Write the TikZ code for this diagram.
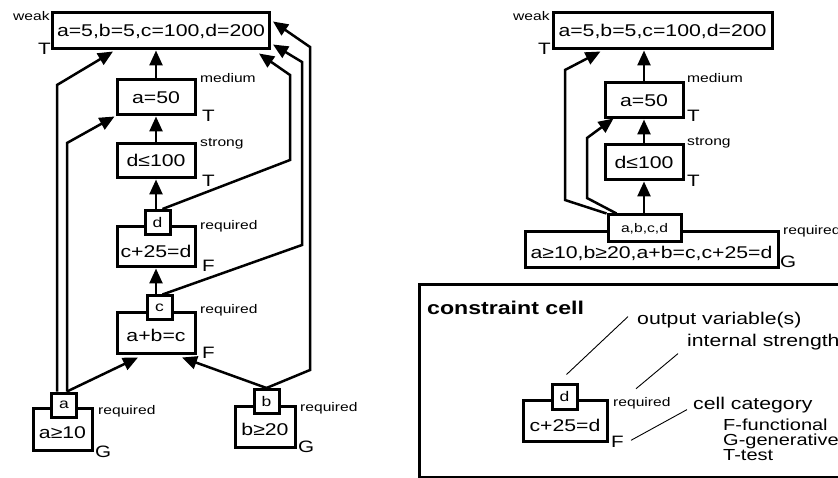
\documentclass[tikz,border=0pt]{standalone}
\usepackage{fontspec}
\setmainfont{Liberation Sans}[FakeStretch=1.25]
\usetikzlibrary{arrows.meta,calc}
\newcommand\fBig{\fontsize{17}{20}\selectfont}
\newcommand\fSm{\fontsize{12.5}{15}\selectfont}
\newcommand\fOut{\fontsize{14}{16}\selectfont}
\newcommand\fTag{\fontsize{16.5}{19}\selectfont}
\newcommand\fHead{\fontsize{18.5}{22}\selectfont\bfseries}
\newcommand\fLeg{\fontsize{16}{19}\selectfont}
\tikzset{
 cbox/.style={draw, line width=3pt, fill=white, inner sep=0pt, font=\fBig, text height=12pt, text depth=0pt},
 obox/.style={draw, line width=3pt, fill=white, inner sep=0pt, font=\fOut, minimum width=25pt, minimum height=24pt},
 lab/.style={font=\fSm, inner sep=0pt, anchor=base west},
 tag/.style={font=\fTag, inner sep=0pt, anchor=base west},
 legtxt/.style={font=\fBig, inner sep=0pt, anchor=base west},
 legsub/.style={font=\fLeg, inner sep=0pt, anchor=base west},
 conn/.style={line width=2.5pt, -{Triangle[length=15pt,width=13pt]}, line join=miter},
 pointer/.style={line width=0.9pt},
}
\begin{document}
\begin{tikzpicture}[x=1pt,y=-1pt]
\useasboundingbox (0,0) rectangle (838,478);
% ---------- left diagram ----------
\node[cbox, minimum width=217pt, minimum height=36pt] (topL) at (161,31) {a=5,b=5,c=100,d=200};
\node[cbox, minimum width=78pt, minimum height=35pt] (aL) at (156,97.5) {a=50};
\node[cbox, minimum width=78pt, minimum height=34pt] (dL) at (156,161) {d≤100};
\node[cbox, minimum width=78pt, minimum height=40pt, text height=21pt] (cdL) at (156,247) {c+25=d};
\node[obox] (odL) at (157.5,222.5) {d};
\node[cbox, minimum width=78pt, minimum height=40pt, text height=17pt] (abL) at (156,333) {a+b=c};
\node[obox] (ocL) at (159.5,308) {c};
\node[cbox, minimum width=59pt, minimum height=42pt, text height=19pt] (a10) at (62.5,429) {a≥10};
\node[obox] (oa) at (64,405) {a};
\node[cbox, minimum width=60pt, minimum height=41pt, text height=18pt] (b20) at (265,426.5) {b≥20};
\node[obox] (ob) at (266.5,401.5) {b};

\draw[conn] (dL.south |- odL.north) -- (dL.south);
\draw[conn] (dL.north) -- (aL.south);
\draw[conn] (aL.north) -- (aL.north |- topL.south);
\draw[conn] (abL.north |- ocL.north) -- (cdL.south);
\draw[conn] ($(odL.north)+(5,0)$) -- (290,160) -- (290,75) -- ($(topL.south east)+(-12,3)$);
\draw[conn] ($(ocL.north)+(3,0)$) -- (302,245) -- (302,62) -- ($(topL.south east)+(2,-6)$);
\draw[conn] (ob.north) -- (310,370) -- (310,47) -- ($(topL.north east)+(2,10)$);
\draw[conn] (ob.north) -- ($(abL.south)+(26,3)$);
\draw[conn] ($(oa.north)+(3,0)$) -- ($(abL.south)+(-18,3)$);
\draw[conn] ($(oa.north)+(-7,0)$) -- (57,85) -- ($(topL.south west)+(62,1)$);
\draw[conn] ($(oa.north)+(3,0)$) -- (67,143) -- ($(aL.south west)+(-1,0)$);

\node[lab] (wL) at (13,21) {weak};
\node[tag] (tL1) at (38,55) {T};
\node[lab] (mL) at (200,83) {medium};
\node[tag] (tL2) at (202,122) {T};
\node[lab] (sL) at (200,147) {strong};
\node[tag] (tL3) at (202,187) {T};
\node[lab] (rL1) at (200,230) {required};
\node[tag] (fL1) at (202,272) {F};
\node[lab] (rL2) at (200,314) {required};
\node[tag] (fL2) at (202,358) {F};
\node[lab] (rL3) at (98,414) {required};
\node[tag] (gL1) at (95,457) {G};
\node[lab] (rL4) at (300,411) {required};
\node[tag] (gL2) at (298,452) {G};

% ---------- right diagram ----------
\node[cbox, minimum width=219pt, minimum height=36pt] (topR) at (662.5,31) {a=5,b=5,c=100,d=200};
\node[cbox, minimum width=78pt, minimum height=35pt] (aR) at (644,100.5) {a=50};
\node[cbox, minimum width=78pt, minimum height=35pt] (dR) at (644,162.5) {d≤100};
\node[cbox, minimum width=253pt, minimum height=36pt, text height=17pt] (bigR) at (651.5,250) {a≥10,b≥20,a+b=c,c+25=d};
\node[obox, font=\fSm, minimum width=73pt, minimum height=27pt] (oR) at (644.5,228.5) {a,b,c,d};

\draw[conn] (dR.south |- oR.north) -- (dR.south);
\draw[conn] (dR.north) -- (aR.south);
\draw[conn] (aR.north) -- (aR.north |- topR.south);
\draw[conn] (oR.north west) -- (565,200) -- (565,70) -- ($(topR.south west)+(49,1)$);
\draw[conn] ($(oR.north west)+(10,0)$) -- (587,198) -- (587,138) -- ($(aR.south west)+(10,-1)$);

\node[lab] (wR) at (513,21) {weak};
\node[tag] (tR1) at (538,55) {T};
\node[lab] (mR) at (687,83) {medium};
\node[tag] (tR2) at (687,122) {T};
\node[lab] (sR) at (687,146) {strong};
\node[tag] (tR3) at (687,187) {T};
\node[lab] (rR) at (783,235) {required};
\node[tag] (gR) at (780,268) {G};

% ---------- legend ----------
\node[draw, line width=3pt, inner sep=0pt, minimum width=431pt, minimum height=192pt] (legend) at (634.5,381) {};
\node[font=\fHead, inner sep=0pt, anchor=base west] (lhead) at (427,315) {constraint cell};
\node[cbox, minimum width=84pt, minimum height=41pt, text height=22pt] (cellL) at (565,420.5) {c+25=d};
\node[obox, minimum height=25pt] (cellO) at (564.5,396.5) {d};
\node[lab] (cellReq) at (613,406) {required};
\node[tag] (cellF) at (611,447) {F};
\node[legtxt] (lOut) at (637,325) {output variable(s)};
\node[legtxt] (lInt) at (687,346) {internal strength};
\node[legtxt] (lCat) at (693,409) {cell category};
\node[legsub] (lF) at (723,430) {F-functional};
\node[legsub] (lG) at (723,445) {G-generative};
\node[legsub] (lT) at (723,460) {T-test};
\draw[pointer] ($(cellO.north)+(2,-8)$) -- ($(lOut.west)+(-9,-4)$);
\draw[pointer] ($(cellReq.north west)+(23,-8)$) -- ($(lInt.west)+(-9,12)$);
\draw[pointer] ($(cellF.east)+(7,-1)$) -- ($(lCat.west)+(-6,5)$);
\end{tikzpicture}
\end{document}
